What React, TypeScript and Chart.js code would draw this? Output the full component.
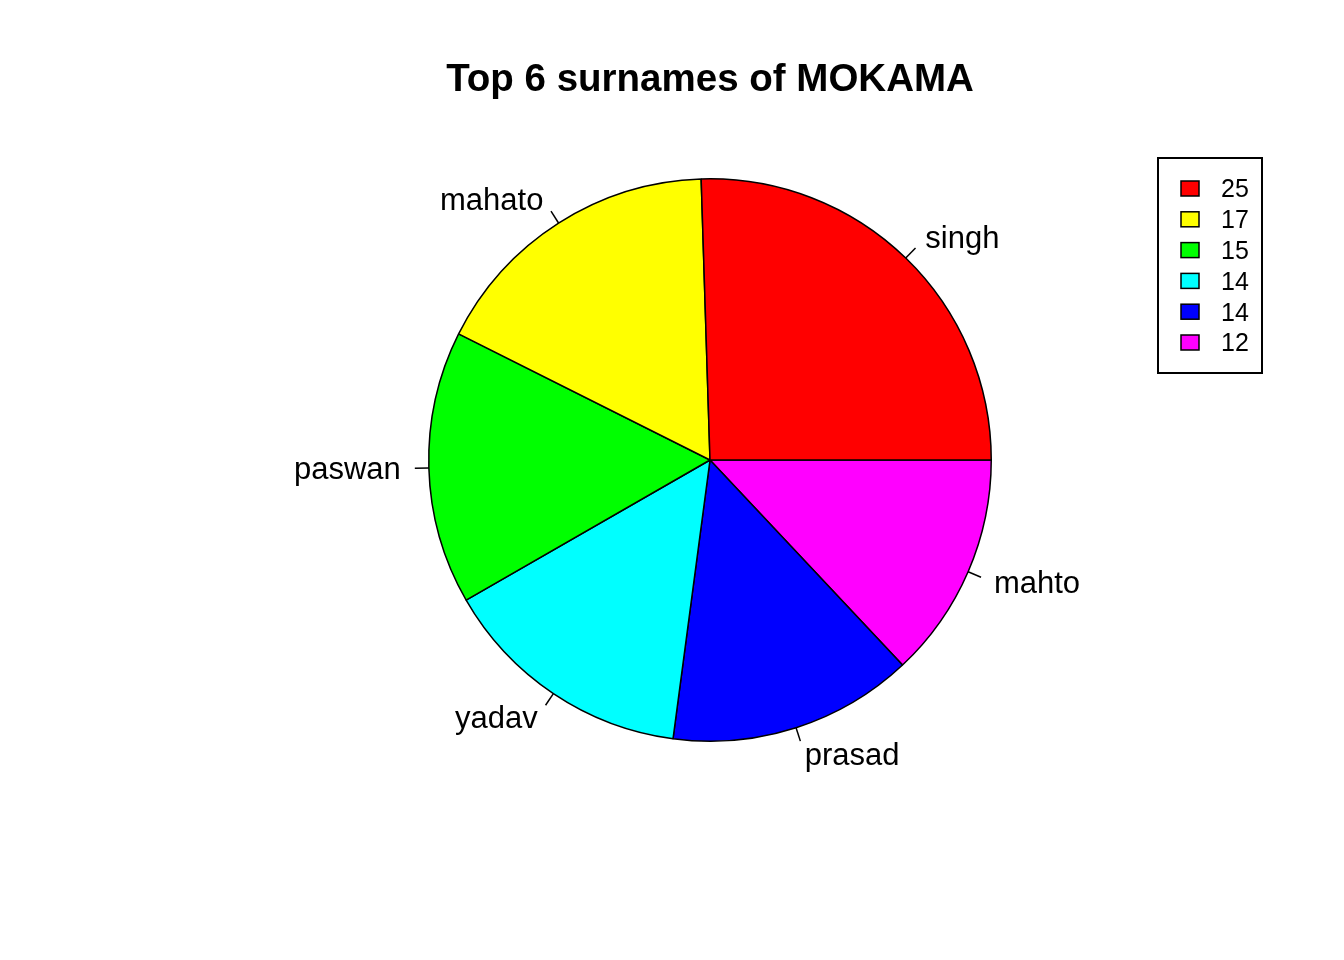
import React, { useEffect, useRef } from "react";
import { Chart, registerables } from "chart.js";

Chart.register(...registerables);

const chartTitle = "Top 6 surnames of MOKAMA";
const surnames = ["singh", "mahato", "paswan", "yadav", "prasad", "mahto"];
// slice shares (percent)
const sliceShares = [25.5, 17.1, 15.7, 14.6, 14.1, 13.0];
// legend labels as printed in the reference
const legendLabels = ["25", "17", "15", "14", "14", "12"];
const sliceColors = ["#FF0000", "#FFFF00", "#00FF00", "#00FFFF", "#0000FF", "#FF00FF"];

const W = 1344;
const H = 960;
const FONT = "'Liberation Sans', Arial, sans-serif";

export default function App() {
  const ref = useRef<HTMLCanvasElement | null>(null);

  useEffect(() => {
    const canvas = ref.current;
    if (!canvas) return;
    // R draws counter-clockwise starting at 3 o'clock; Chart.js draws clockwise,
    // so feed reversed data starting at 3 o'clock.
    const labelsRev = [...surnames].reverse();
    const dataRev = [...sliceShares].reverse();
    const colorsRev = [...sliceColors].reverse();

    const overlay = {
      id: "rOverlay",
      afterDraw(chart: any) {
        const ctx = chart.ctx as CanvasRenderingContext2D;
        ctx.save();
        // title
        ctx.fillStyle = "#000";
        ctx.font = `bold 38.5px ${FONT}`;
        ctx.textAlign = "center";
        ctx.textBaseline = "middle";
        ctx.fillText(chartTitle, 710, 80);

        // slice labels with tick lines
        const meta = chart.getDatasetMeta(0);
        ctx.font = `31px ${FONT}`;
        ctx.strokeStyle = "#000";
        ctx.lineWidth = 1.5;
        meta.data.forEach((arc: any, i: number) => {
          const p = arc.getProps(["x", "y", "startAngle", "endAngle", "outerRadius"], true);
          const mid = (p.startAngle + p.endAngle) / 2;
          const c = Math.cos(mid);
          const s = Math.sin(mid);
          const r = p.outerRadius;
          ctx.beginPath();
          ctx.moveTo(p.x + c * r, p.y + s * r);
          ctx.lineTo(p.x + c * r * 1.05, p.y + s * r * 1.05);
          ctx.stroke();
          ctx.textAlign = c >= 0 ? "left" : "right";
          ctx.textBaseline = "middle";
          ctx.fillText(chart.data.labels[i], p.x + c * r * 1.1, p.y + s * r * 1.1 + 2);
        });

        // legend
        ctx.lineWidth = 2;
        ctx.strokeRect(1158, 158, 104, 215);
        ctx.font = `25px ${FONT}`;
        ctx.textAlign = "left";
        ctx.textBaseline = "middle";
        legendLabels.forEach((v, i) => {
          const cy = 188.5 + i * 30.8;
          ctx.fillStyle = sliceColors[i];
          ctx.fillRect(1181, cy - 7.5, 18, 15);
          ctx.lineWidth = 1.5;
          ctx.strokeRect(1181, cy - 7.5, 18, 15);
          ctx.fillStyle = "#000";
          ctx.fillText(v, 1221, cy + 2);
        });
        ctx.restore();
      },
    };

    const chart = new Chart(canvas, {
      type: "pie",
      data: {
        labels: labelsRev,
        datasets: [
          {
            data: dataRev,
            backgroundColor: colorsRev,
            borderColor: "#000000",
            borderWidth: 1.5,
            borderAlign: "center",
          },
        ],
      },
      options: {
        responsive: false,
        animation: false,
        rotation: 90,
        layout: { padding: { left: 428, right: 352, top: 178, bottom: 218 } },
        plugins: {
          legend: { display: false },
          tooltip: { enabled: false },
          title: { display: false },
        },
      },
      plugins: [overlay],
    });
    return () => chart.destroy();
  }, []);

  return (
    <div style={{ position: "absolute", left: 0, top: 0, width: W, height: H, background: "#fff" }}>
      <canvas ref={ref} width={W} height={H} style={{ display: "block", width: W, height: H }} />
    </div>
  );
}
